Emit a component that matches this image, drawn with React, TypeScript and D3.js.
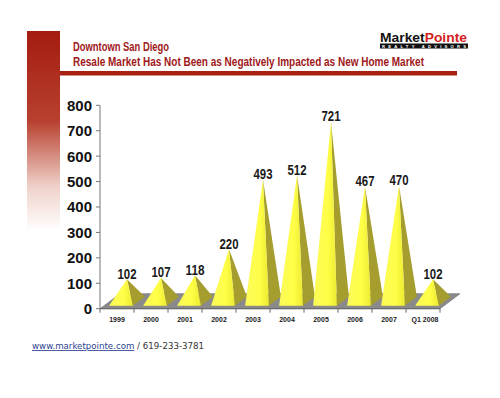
import React from "react";
import * as d3 from "d3";

const categories = ["1999", "2000", "2001", "2002", "2003", "2004", "2005", "2006", "2007", "Q1 2008"];
const values = [102, 107, 118, 220, 493, 512, 721, 467, 470, 102];
const yTicks = [0, 100, 200, 300, 400, 500, 600, 700, 800];
const titleLine1 = "Downtown San Diego";
const titleLine2 = "Resale Market Has Not Been as Negatively Impacted as New Home Market";
const footerLink = "www.marketpointe.com";
const footerRest = " / 619-233-3781";

const W = 500;
const H = 398;
const DX = 20; // depth offset x
const DY = -15; // depth offset y

export default function App() {
  const x = d3.scaleBand<string>().domain(categories).range([100, 440]).padding(0);
  const y = d3.scaleLinear().domain([0, 800]).range([308.7, 105.3]);
  const y0 = y(0);
  const bw = x.bandwidth();
  const half = bw * 0.35;

  const floor = d3.path();
  floor.moveTo(x.range()[0], y0);
  floor.lineTo(x.range()[1], y0);
  floor.lineTo(x.range()[1] + DX, y0 + DY);
  floor.lineTo(x.range()[0] + DX, y0 + DY);
  floor.closePath();

  const pyramids = categories.map((c, i) => {
    const cx = (x(c) as number) + bw / 2;
    const zf = 0.2;
    const zb = 0.8;
    const fl: [number, number] = [cx - half + DX * zf, y0 + DY * zf];
    const fr: [number, number] = [cx + half + DX * zf, y0 + DY * zf];
    const br: [number, number] = [cx + half + DX * zb, y0 + DY * zb];
    const apex: [number, number] = [cx + DX * 0.5, y(values[i]) - 3.5];
    const line = d3.line();
    return {
      c,
      v: values[i],
      front: line([fl, fr, apex]) + "Z",
      side: line([fr, br, apex]) + "Z",
      apex,
      cx,
    };
  });

  const font = "'Liberation Sans', Arial, sans-serif";

  return (
    <svg width={W} height={H} style={{ position: "absolute", left: 0, top: 0, background: "#fff" }}>
      <defs>
        <linearGradient id="redbar" x1="0" y1="0" x2="0" y2="1">
          <stop offset="0" stopColor="#a41c10" />
          <stop offset="0.45" stopColor="#b8402f" />
          <stop offset="0.78" stopColor="#efd2ca" />
          <stop offset="1" stopColor="#ffffff" />
        </linearGradient>
        <linearGradient id="frontFace" x1="0" y1="0" x2="1" y2="0">
          <stop offset="0" stopColor="#fafa5a" />
          <stop offset="0.6" stopColor="#ffff48" />
          <stop offset="1" stopColor="#ecea30" />
        </linearGradient>
      </defs>

      {/* decorative header */}
      <rect x={27} y={31} width={33} height={200} fill="url(#redbar)" />
      <rect x={60} y={71} width={397} height={4.5} fill="#a82012" />
      <text x={73} y={51} fontFamily={font} fontWeight="bold" fontSize={12} fill="#a0181a"
        textLength={96} lengthAdjust="spacingAndGlyphs">{titleLine1}</text>
      <text x={73} y={66} fontFamily={font} fontWeight="bold" fontSize={12} fill="#a0181a"
        textLength={351} lengthAdjust="spacingAndGlyphs">{titleLine2}</text>

      {/* logo */}
      <text x={380} y={42} fontFamily={font} fontWeight={900} fontSize={12.5} textLength={87}
        lengthAdjust="spacingAndGlyphs">
        <tspan fill="#111">Market</tspan>
        <tspan fill="#d41e1e">Pointe</tspan>
      </text>
      <rect x={380} y={43.5} width={88} height={5} fill="#111" />
      <text x={382} y={47.8} fontFamily={font} fontWeight="bold" fontSize={4.2} fill="#fff"
        textLength={84} lengthAdjust="spacing">REALTY ADVISORS</text>

      {/* floor */}
      <path d={floor.toString()} fill="#8a8a8a" stroke="#6a6a6a" strokeWidth={0.6} />

      {/* y axis */}
      <line x1={100} x2={100} y1={y(800)} y2={y0} stroke="#777" strokeWidth={1} />
      {yTicks.map((t) => (
        <g key={t}>
          <line x1={96} x2={100} y1={y(t)} y2={y(t)} stroke="#777" />
          <text x={92} y={y(t)} dy="0.36em" textAnchor="end" fontFamily={font} fontWeight="bold"
            fontSize={15} fill="#111">{t}</text>
        </g>
      ))}

      {/* x axis */}
      <line x1={100} x2={440} y1={y0} y2={y0} stroke="#666" strokeWidth={1} />
      {categories.map((c, i) => (
        <g key={c}>
          <line x1={(x(c) as number) + bw} x2={(x(c) as number) + bw} y1={y0} y2={y0 + 4} stroke="#666" />
          <text x={(x(c) as number) + bw / 2 + (i === 9 ? 2 : 0)} y={322} textAnchor="middle"
            fontFamily={font} fontWeight="bold" fontSize={7} fill="#222">{c}</text>
        </g>
      ))}
      <line x1={100} x2={100} y1={y0} y2={y0 + 4} stroke="#666" />

      {/* pyramids */}
      {pyramids.map((p) => (
        <g key={p.c}>
          <path d={p.side} fill="#a59d2e" />
          <path d={p.front} fill="url(#frontFace)" />
        </g>
      ))}

      {/* value labels */}
      {pyramids.map((p) => (
        <text key={p.c} x={p.apex[0]} y={p.apex[1] - 0.5} textAnchor="middle" fontFamily={font}
          fontWeight="bold" fontSize={14} fill="#1a1a1a" textLength={19} lengthAdjust="spacingAndGlyphs">
          {p.v}
        </text>
      ))}

      {/* footer */}
      <text x={32} y={349} fontFamily="'DejaVu Sans', Verdana, sans-serif" fontSize={8.4}
        textLength={172} lengthAdjust="spacingAndGlyphs">
        <tspan fill="#2b3f8f" textDecoration="underline">{footerLink}</tspan>
        <tspan fill="#333">{footerRest}</tspan>
      </text>
    </svg>
  );
}
